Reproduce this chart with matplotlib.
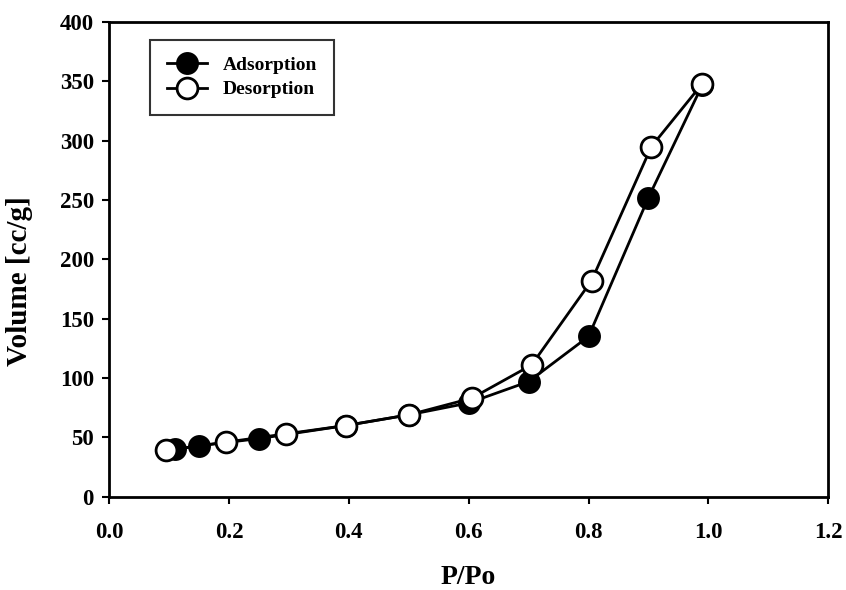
import matplotlib.pyplot as plt

# isotherm data
ads_x = [0.11, 0.15, 0.25, 0.395, 0.5, 0.6, 0.7, 0.8, 0.9, 0.99]
ads_y = [40, 43, 49, 60, 69, 79, 97, 135, 252, 347]
des_x = [0.095, 0.195, 0.295, 0.395, 0.5, 0.605, 0.705, 0.805, 0.905, 0.99]
des_y = [39, 46, 53, 60, 69, 83, 111, 182, 295, 348]

plt.rcParams['font.family'] = ['Liberation Serif', 'DejaVu Serif']
plt.rcParams['font.weight'] = 'bold'

fig = plt.figure(figsize=(8.46, 5.9), dpi=100)
ax = fig.add_axes([0.129, 0.158, 0.850, 0.805])

ax.plot(ads_x, ads_y, '-o', color='black', lw=2, ms=15, mfc='black', mec='black',
        mew=1.5, label='Adsorption')
ax.plot(des_x, des_y, '-o', color='black', lw=2, ms=15, mfc='white', mec='black',
        mew=2, label='Desorption')

ax.set_xlim(0, 1.2)
ax.set_ylim(0, 400)
ax.set_xticks([0.0, 0.2, 0.4, 0.6, 0.8, 1.0, 1.2])
ax.set_xticklabels(['0.0', '0.2', '0.4', '0.6', '0.8', '1.0', '1.2'])
ax.set_yticks(range(0, 401, 50))
ax.tick_params(direction='out', length=5, width=1.5, labelsize=16.5)
ax.tick_params(axis='x', pad=13)
ax.tick_params(axis='y', pad=6)
for s in ax.spines.values():
    s.set_linewidth(2)

ax.set_xlabel('P/Po', fontsize=20, fontweight='bold', labelpad=16)
ax.set_ylabel('Volume [cc/g]', fontsize=21, fontweight='bold')
ax.yaxis.set_label_coords(-0.106, 0.455)

leg = ax.legend(loc='upper left', bbox_to_anchor=(0.057, 0.962), borderaxespad=0,
                fontsize=14, frameon=True, fancybox=False, edgecolor='black',
                handlelength=2.1, borderpad=0.85, labelspacing=0.35)
leg.get_frame().set_linewidth(1.5)

fig.savefig('out.png', dpi=100)
